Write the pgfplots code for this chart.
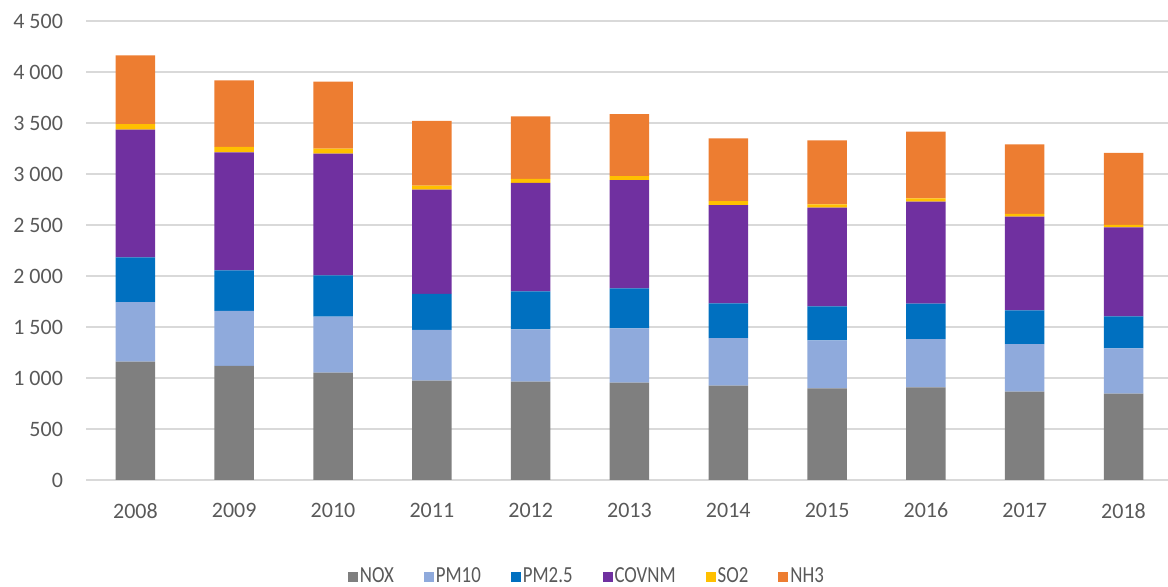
\documentclass[border=0pt]{standalone}
\usepackage{fontspec}
\setmainfont{Carlito}
\newfontfamily\legendfont[FakeStretch=0.82]{Carlito}
\usepackage{pgfplots}
\pgfplotsset{compat=1.18}
\definecolor{cNOX}{HTML}{7F7F7F}
\definecolor{cPMten}{HTML}{8FAADC}
\definecolor{cPMtwo}{HTML}{0070C0}
\definecolor{cCOV}{HTML}{7030A0}
\definecolor{cSO}{HTML}{FFC000}
\definecolor{cNH}{HTML}{ED7D31}
\definecolor{gridc}{HTML}{D9D9D9}
\definecolor{txt}{HTML}{595959}
\begin{document}
\begin{tikzpicture}
\useasboundingbox (0,0) rectangle (584pt,293.5pt);
\begin{axis}[
  at={(43pt,53.5pt)}, anchor=south west,
  scale only axis, width=541pt, height=229.5pt,
  ybar stacked, bar width=19.75pt,
  xmin=-0.5, xmax=10.45, ymin=0, ymax=4500,
  ytick={0,500,...,4500},
  xtick={0,1,2,3,4,5,6,7,8,9,10},
  xticklabels={2008,2009,2010,2011,2012,2013,2014,2015,2016,2017,2018},
  axis line style={draw=none}, major tick length=0pt,
  ymajorgrids, grid style={color=gridc, line width=0.75pt},
  scaled y ticks=false,
  /pgf/number format/assume math mode=true,
  /pgf/number format/1000 sep={\hspace{0.22em}},
  ticklabel style={font=\fontsize{11}{13}\selectfont, text=txt},
  yticklabel style={xshift=-8pt},
  xticklabel style={yshift=-8pt},
  legend columns=6,
  legend style={at={(0.463,-0.211)}, anchor=center, draw=none, fill=none,
    font=\legendfont\fontsize{11.5}{13}\selectfont, text=txt,
    nodes={inner sep=1pt},
    /tikz/every even column/.append style={column sep=14pt}},
  legend image code/.code={\fill[#1] (0pt,-2.5pt) rectangle (5pt,2.5pt);},
]
\addplot[fill=cNOX, draw=none] coordinates {(0,1160) (1,1118) (2,1052) (3,974) (4,964) (5,954) (6,925) (7,899) (8,908) (9,866) (10,846)};
\addplot[fill=cPMten, draw=none] coordinates {(0,585) (1,539) (2,549) (3,497) (4,513) (5,533) (6,467) (7,470) (8,474) (9,467) (10,445)};
\addplot[fill=cPMtwo, draw=none] coordinates {(0,438) (1,399) (2,406) (3,353) (4,373) (5,392) (6,340) (7,334) (8,347) (9,330) (10,314)};
\addplot[fill=cCOV, draw=none] coordinates {(0,1252) (1,1156) (2,1192) (3,1022) (4,1062) (5,1062) (6,964) (7,967) (8,1000) (9,919) (10,872)};
\addplot[fill=cSO, draw=none] coordinates {(0,55) (1,53) (2,49) (3,40) (4,39) (5,39) (6,39) (7,33) (8,33) (9,26) (10,23)};
\addplot[fill=cNH, draw=none] coordinates {(0,674) (1,653) (2,657) (3,634) (4,614) (5,608) (6,615) (7,627) (8,653) (9,683) (10,706)};
\legend{NOX,PM10,PM2.5,COVNM,SO2,NH3}
\end{axis}
\end{tikzpicture}
\end{document}
